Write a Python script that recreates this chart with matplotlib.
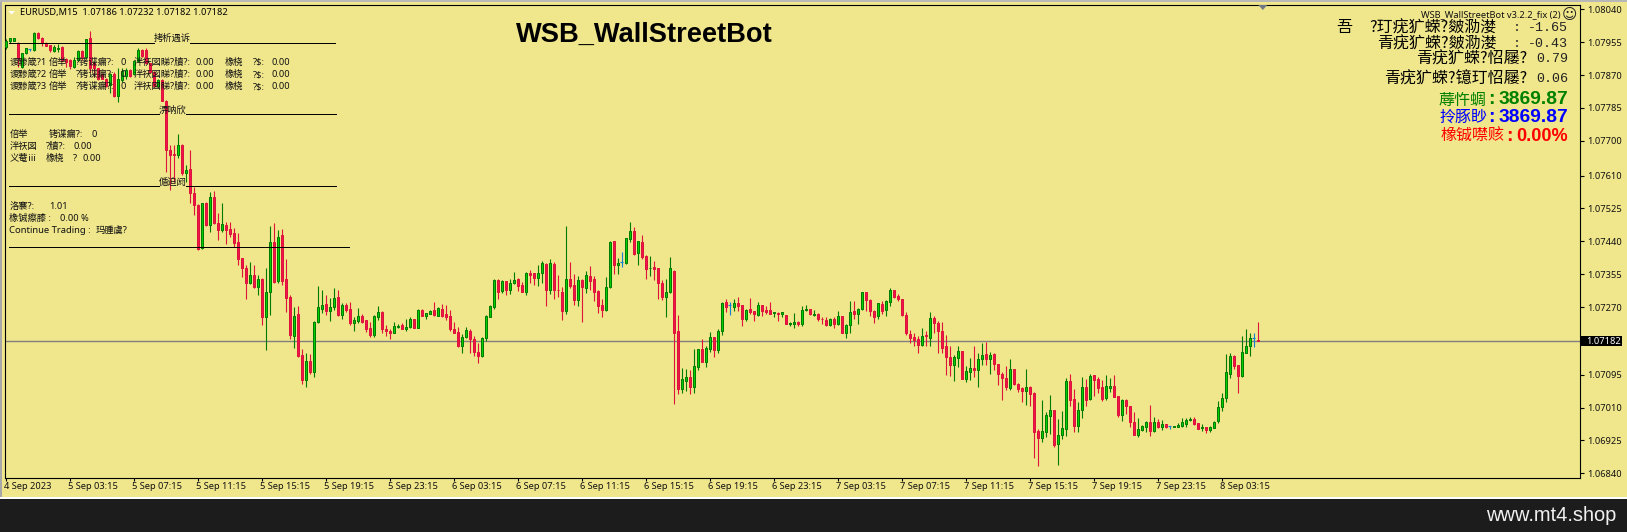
import matplotlib
matplotlib.use("Agg")
import matplotlib.pyplot as plt
from matplotlib.lines import Line2D
from matplotlib.patches import Polygon, Rectangle
from matplotlib.transforms import ScaledTranslation
import numpy as np

plt.rcParams['font.family'] = ['Noto Sans', 'Noto Sans CJK SC', 'DejaVu Sans']

# Quotes are kept in points above 1.0 (7182 means 1.07182)
OPEN_PTS = [
7942,7957,7959,7954,7892,7926,7937,7935,7978,7967,
7954,7947,7933,7938,7942,7911,7909,7892,7909,7932,
7916,7965,7902,7887,7873,7861,7843,7873,7816,7857,
7867,7883,7873,7906,7935,7935,7900,7879,7842,7857,
7804,7676,7667,7663,7689,7616,7626,7564,7534,7422,
7540,7482,7554,7488,7469,7482,7471,7461,7438,7396,
7370,7331,7352,7321,7342,7244,7310,7439,7338,7456,
7342,7295,7196,7251,7145,7082,7130,7103,7231,7266,
7278,7261,7269,7295,7250,7275,7264,7230,7235,7246,
7236,7215,7199,7245,7257,7213,7207,7204,7219,7223,
7212,7219,7238,7217,7262,7248,7253,7262,7248,7264,
7251,7246,7213,7205,7170,7193,7207,7187,7153,7144,
7191,7245,7271,7339,7312,7337,7313,7331,7342,7326,
7310,7357,7357,7346,7357,7381,7315,7381,7314,7308,
7261,7342,7326,7289,7339,7320,7350,7342,7311,7275,
7263,7323,7440,7378,7387,7384,7447,7466,7411,7438,
7401,7370,7373,7370,7332,7295,7308,7363,7208,7059,
7080,7089,7062,7116,7161,7129,7162,7192,7158,7209,
7283,7276,7271,7280,7275,7238,7264,7259,7250,7275,
7262,7262,7255,7255,7251,7249,7226,7226,7232,7227,
7262,7264,7249,7251,7239,7236,7223,7238,7225,7246,
7204,7223,7259,7251,7264,7308,7288,7259,7248,7277,
7262,7283,7314,7298,7290,7249,7200,7192,7187,7173,
7197,7191,7241,7228,7208,7169,7142,7119,7137,7156,
7085,7103,7112,7106,7135,7148,7136,7148,7122,7098,
7086,7061,7109,7070,7061,7054,7062,7049,6949,6932,
6948,6989,7003,6917,6938,6955,7080,7031,6963,7003,
7062,7032,7093,7083,7062,7036,7061,7067,7039,6992,
7029,7013,6974,6940,6952,6961,6974,6949,6972,6960,
6967,6962,6961,6961,6963,6967,6979,6980,6969,6956,
6959,6953,6958,6975,7011,7034,7097,7143,7119,7092,
7152,7170,7189,7186]
CLOSE_PTS = [
7959,7965,7965,7913,7926,7939,7937,7978,7967,7954,
7946,7935,7942,7941,7909,7903,7893,7909,7932,7916,
7962,7887,7887,7861,7861,7842,7873,7816,7861,7881,
7883,7867,7906,7935,7919,7900,7879,7842,7857,7804,
7676,7663,7663,7689,7616,7624,7564,7534,7420,7538,
7481,7555,7488,7469,7485,7469,7459,7435,7394,7370,
7331,7353,7323,7342,7244,7310,7439,7336,7452,7338,
7293,7199,7248,7144,7082,7130,7103,7231,7269,7275,
7261,7269,7293,7250,7275,7263,7230,7236,7246,7232,
7214,7199,7246,7257,7212,7207,7204,7220,7220,7214,
7218,7238,7217,7262,7248,7254,7261,7250,7267,7248,
7244,7212,7204,7170,7192,7210,7187,7154,7144,7189,
7246,7272,7339,7310,7337,7313,7331,7339,7325,7310,
7357,7354,7344,7357,7383,7313,7383,7313,7313,7261,
7342,7325,7289,7339,7323,7352,7338,7310,7274,7263,
7321,7438,7378,7383,7387,7448,7466,7408,7440,7400,
7368,7371,7369,7333,7295,7308,7370,7204,7059,7083,
7089,7062,7117,7161,7129,7164,7192,7158,7208,7280,
7271,7276,7280,7274,7238,7262,7258,7251,7275,7261,
7258,7253,7256,7251,7257,7227,7228,7231,7227,7262,
7264,7251,7251,7238,7238,7223,7238,7225,7246,7204,
7223,7257,7251,7264,7308,7288,7259,7245,7280,7261,
7285,7314,7297,7290,7249,7202,7191,7186,7173,7194,
7194,7241,7230,7207,7165,7142,7119,7140,7156,7085,
7104,7112,7106,7135,7146,7135,7145,7123,7098,7086,
7064,7109,7072,7059,7054,7062,7046,6948,6932,6949,
6991,7003,6914,6938,6956,7078,7030,6963,7003,7062,
7030,7091,7082,7061,7032,7065,7067,7038,6992,7029,
7015,6974,6940,6954,6962,6974,6949,6974,6960,6967,
6960,6962,6962,6965,6972,6979,6980,6967,6955,6959,
6953,6959,6974,7011,7034,7101,7143,7118,7092,7155,
7168,7189,7189,7182]
HIGH_PTS = [
7962,7967,7967,7956,7928,7941,7937,7980,7980,7968,
7955,7948,7948,7949,7944,7913,7911,7917,7936,7936,
7964,7984,7904,7889,7875,7863,7875,7879,7887,7887,
7887,7885,7908,7941,7937,7941,7902,7881,7861,7859,
7806,7689,7689,7717,7691,7637,7676,7581,7536,7540,
7542,7568,7571,7514,7538,7491,7491,7474,7461,7398,
7379,7386,7379,7353,7344,7370,7480,7487,7469,7472,
7394,7301,7269,7273,7162,7150,7149,7233,7325,7313,
7301,7293,7319,7314,7280,7280,7283,7245,7268,7251,
7237,7232,7249,7272,7260,7223,7213,7232,7225,7229,
7239,7244,7240,7264,7264,7255,7263,7283,7271,7278,
7275,7262,7232,7219,7200,7219,7213,7195,7176,7192,
7249,7275,7342,7342,7340,7338,7342,7360,7344,7334,
7360,7366,7359,7379,7389,7383,7394,7387,7353,7321,
7480,7387,7355,7350,7342,7363,7376,7350,7313,7291,
7347,7440,7441,7396,7413,7449,7489,7476,7441,7456,
7404,7402,7389,7371,7340,7343,7400,7365,7250,7113,
7110,7108,7161,7162,7187,7170,7205,7193,7213,7282,
7290,7283,7290,7295,7276,7264,7293,7260,7283,7276,
7272,7283,7258,7258,7258,7250,7232,7255,7234,7272,
7275,7265,7262,7254,7245,7245,7241,7244,7260,7247,
7225,7285,7285,7267,7309,7309,7290,7262,7281,7285,
7288,7319,7315,7303,7291,7258,7211,7202,7194,7215,
7208,7258,7247,7235,7231,7198,7169,7145,7170,7157,
7117,7139,7169,7151,7176,7180,7154,7150,7123,7101,
7117,7136,7110,7073,7064,7109,7067,7050,6954,7030,
6999,7042,7005,6980,7001,7086,7098,7058,7024,7088,
7084,7096,7094,7088,7081,7094,7086,7094,7041,7033,
7033,7014,6999,6983,6965,6975,7017,6986,6980,6978,
6968,6962,6962,6970,6983,6983,6986,6986,6970,6967,
6960,6963,6975,7027,7048,7148,7150,7146,7120,7194,
7212,7202,7202,7232]
LOW_PTS = [
7938,7954,7958,7892,7888,7924,7933,7933,7963,7944,
7945,7929,7930,7930,7906,7892,7885,7887,7905,7909,
7914,7879,7866,7858,7859,7840,7823,7814,7801,7853,
7861,7865,7871,7904,7917,7898,7877,7840,7838,7802,
7620,7573,7594,7655,7612,7594,7538,7508,7418,7420,
7479,7465,7485,7443,7465,7433,7452,7426,7379,7347,
7291,7329,7319,7301,7224,7159,7250,7331,7333,7327,
7258,7188,7165,7142,7071,7062,7097,7090,7228,7254,
7250,7235,7263,7247,7239,7258,7224,7209,7230,7230,
7206,7193,7193,7237,7204,7194,7188,7202,7215,7212,
7208,7217,7215,7215,7247,7240,7252,7248,7247,7243,
7237,7207,7203,7167,7150,7189,7151,7144,7126,7142,
7182,7243,7266,7291,7307,7301,7305,7330,7311,7309,
7301,7332,7328,7325,7331,7273,7305,7291,7296,7237,
7252,7318,7275,7273,7232,7307,7313,7286,7255,7244,
7261,7319,7356,7356,7374,7381,7437,7405,7379,7395,
7343,7350,7340,7291,7287,7245,7306,7020,7045,7049,
7054,7045,7049,7106,7128,7114,7154,7142,7150,7199,
7258,7250,7261,7261,7222,7235,7251,7233,7248,7248,
7251,7251,7243,7235,7245,7226,7222,7217,7222,7222,
7261,7250,7248,7233,7225,7222,7222,7217,7223,7202,
7191,7202,7238,7227,7263,7261,7248,7230,7238,7253,
7248,7274,7293,7285,7248,7199,7178,7170,7152,7168,
7168,7170,7204,7150,7150,7093,7092,7080,7114,7083,
7077,7082,7090,7062,7119,7120,7098,7107,7069,7030,
7055,7056,7069,7051,7025,7017,7014,6880,6859,6921,
6934,6942,6909,6861,6930,6937,7014,6948,6948,6984,
7014,7030,7040,7048,7027,7030,7050,7037,6986,6975,
6993,6960,6939,6934,6949,6947,6936,6947,6957,6952,
6957,6955,6961,6960,6960,6960,6975,6966,6954,6949,
6944,6947,6956,6970,7002,7025,7087,7109,7047,7089,
7151,7143,7167,7182]

DATE_LABELS = ["4 Sep 2023","5 Sep 03:15","5 Sep 07:15","5 Sep 11:15","5 Sep 15:15",
               "5 Sep 19:15","5 Sep 23:15","6 Sep 03:15","6 Sep 07:15","6 Sep 11:15",
               "6 Sep 15:15","6 Sep 19:15","6 Sep 23:15","7 Sep 03:15","7 Sep 07:15",
               "7 Sep 11:15","7 Sep 15:15","7 Sep 19:15","7 Sep 23:15","8 Sep 03:15"]
DATE_STEP_BARS = 16
PRICE_TICKS = [1.08040,1.07955,1.07870,1.07785,1.07700,1.07610,1.07525,1.07440,
               1.07355,1.07270,1.07095,1.07010,1.06925,1.06840]
LAST_PRICE = 1.07182

assert len(OPEN_PTS) == len(CLOSE_PTS) == len(HIGH_PTS) == len(LOW_PTS) == 314

W, H = 1627, 532
KHAKI = '#F0E68C'
BULL_FILL, BULL_EDGE = '#00d000', '#007a00'
BEAR_FILL, BEAR_EDGE = '#f0144a', '#dc143c'
DOJI = '#1080d0'
TEXT_SIZE = 6.7

fig = plt.figure(figsize=(W / 100, H / 100), dpi=100, facecolor=KHAKI)


def px_axes(l, t, r, b):
    return [l / W, 1 - b / H, (r - l) / W, (b - t) / H]


def txt(x, y, s, size=TEXT_SIZE, color='#111111', ha='left', **kw):
    return fig.text(x / W, 1 - y / H, s, fontsize=size, color=color, ha=ha, va='center', zorder=20, **kw)


def hline(x0, x1, y, color='black', lw=1.0):
    fig.add_artist(Line2D([x0 / W, x1 / W], [1 - y / H, 1 - y / H], color=color, lw=lw * 0.72, zorder=15))


ax = fig.add_axes(px_axes(4.5, 4.5, 1579.5, 477.5), facecolor=KHAKI)
ax.set_xlim((4.5 - 5.67) / 4, (1579.5 - 5.67) / 4)
ax.set_ylim(1.068292, 1.080524)

o = 1 + np.array(OPEN_PTS) / 1e5
c = 1 + np.array(CLOSE_PTS) / 1e5
h = 1 + np.array(HIGH_PTS) / 1e5
l = 1 + np.array(LOW_PTS) / 1e5
x = np.arange(len(o))
up = c > o
dn = c < o
eq = c == o

ax.axhline(LAST_PRICE, color='#808080', lw=1.0, zorder=1)
for mask, col in ((up, BULL_EDGE), (dn, BEAR_EDGE), (eq, DOJI)):
    ax.vlines(x[mask], l[mask], h[mask], color=col, lw=0.8, zorder=2)
ax.bar(x[up], (c - o)[up], bottom=o[up], width=0.5, facecolor=BULL_FILL, edgecolor=BULL_EDGE, lw=0.72, zorder=3)
ax.bar(x[dn], (o - c)[dn], bottom=c[dn], width=0.5, facecolor=BEAR_FILL, edgecolor=BEAR_EDGE, lw=0.72, zorder=3)
ax.hlines(o[eq], x[eq] - 0.4, x[eq] + 0.4, color=DOJI, lw=0.85, zorder=3)

for s in ax.spines.values():
    s.set_color('black')
    s.set_linewidth(0.8)
ax.yaxis.tick_right()
ax.set_yticks(PRICE_TICKS + [LAST_PRICE])
ax.set_yticklabels([f"{p:.5f}" for p in PRICE_TICKS] + [""], fontsize=TEXT_SIZE, color='#111111')
ax.tick_params(axis='y', length=2.6, width=0.8, pad=2.6, color='black')
ax.set_xticks(np.arange(len(DATE_LABELS)) * DATE_STEP_BARS)
ax.set_xticklabels(DATE_LABELS, fontsize=TEXT_SIZE, color='#111111', ha='left')
ax.tick_params(axis='x', length=2.4, width=0.8, pad=1.0, color='black')
shift = ScaledTranslation(-1.6 / 100, 0, fig.dpi_scale_trans)
for t in ax.get_xticklabels():
    t.set_transform(t.get_transform() + shift)

# last price box
yp = H - ax.transData.transform((0, LAST_PRICE))[1]
fig.add_artist(Rectangle((1581 / W, 1 - (yp + 5.2) / H), 40.7 / W, 10.4 / H, transform=fig.transFigure,
                         facecolor='black', edgecolor='none', zorder=16))
txt(1585.7, yp + 0.2, f"{LAST_PRICE:.5f}", color='white')

# frame pieces outside the plot
fig.add_artist(Rectangle((0, 0), 2 / W, 1, transform=fig.transFigure, facecolor='#a8a8a8', edgecolor='none', zorder=0))
fig.add_artist(Rectangle((0, 1 - 1.5 / H), 1, 1.5 / H, transform=fig.transFigure, facecolor='#b8b8b8', edgecolor='none', zorder=0))
fig.add_artist(Rectangle((0, 0), 1, 35 / H, transform=fig.transFigure, facecolor='white', edgecolor='none', zorder=17))
fig.add_artist(Rectangle((0, 0), 1, 33 / H, transform=fig.transFigure, facecolor='#1c1c1c', edgecolor='none', zorder=18))
txt(1486, 515.5, "www.mt4.shop", size=14.4, color='#f0f0f0', family='Liberation Sans')

# header
fig.add_artist(Polygon([[8.3 / W, 1 - 11 / H], [15 / W, 1 - 11 / H], [11.6 / W, 1 - 14.5 / H]],
                       transform=fig.transFigure, facecolor='white', edgecolor='none', zorder=16))
txt(20.2, 12.8, "EURUSD,M15  1.07186 1.07232 1.07182 1.07182", size=6.65, color='black')
fig.add_artist(Polygon([[1258.3 / W, 1 - 5 / H], [1267.3 / W, 1 - 5 / H], [1262.8 / W, 1 - 10 / H]],
                       transform=fig.transFigure, facecolor='#707888', edgecolor='none', zorder=16))
txt(515.7, 35, "WSB_WallStreetBot", size=19.6, color='black', family='Liberation Sans', weight='bold')

# left panel
hline(9, 154, 42.5); hline(190, 335, 42.5)
txt(172, 38.5, "拷析遇诉", ha='center')
hline(9, 159, 114.3); hline(186, 336, 114.3)
txt(172.5, 110.5, "淠呐欣", ha='center')
hline(9, 159, 186); hline(186, 336, 186)
txt(172.5, 182, "偱迫阏", ha='center')
hline(9, 349, 246.5)

for n, y in ((1, 62.5), (2, 74.5), (3, 86.5)):
    txt(9.3, y, f"谡黪箴?{n}")
    txt(49, y, "倍举")
    txt(76, y, "?铐谍瘺?:")
    txt(120, y, "0")
    txt(133.5, y, "泮祆図睇?牘?:")
    txt(195, y, "0.00")
    txt(225, y, "橡桡")
    txt(252.5, y, "?$:")
    txt(271, y, "0.00")
txt(9.3, 134.3, "倍举"); txt(49, 134.3, "铐谍瘺?:"); txt(91.5, 134.3, "0")
txt(9.3, 146.3, "泮祆図"); txt(45.5, 146.3, "?牘?:"); txt(74, 146.3, "0.00")
txt(9.3, 158.3, "义菴ⅲ"); txt(45.5, 158.3, "橡桡"); txt(72.5, 158.3, "?"); txt(82.3, 158.3, "0.00")
txt(9.3, 206.5, "洛褰?:"); txt(49.3, 206.5, "1.01")
txt(9.3, 218.5, "橡铖瘵膝 :"); txt(60, 218.5, "0.00 %")
txt(9.3, 230.5, "Continue Trading :", size=6.8); txt(96, 230.5, "玛腫虞?")

# right panel
txt(1560.7, 14.2, "WSB_WallStreetBot v3.2.2_fix (2)", ha='right', size=6.7, color='#111111')
txt(1569, 14, "☺", ha='center', size=10.5, color='#222222', family='DejaVu Sans')

CJK = 'Noto Sans CJK SC'
MONO = 'Liberation Mono'
NAME_SIZE = 11.5
txt(1344.7, 27.7, "吾", ha='center', size=NAME_SIZE, family=CJK, color='black')
txt(1568, 28, "-1.65", ha='right', size=9.6, family=MONO, color='#222222')
txt(1517, 28, ":", ha='center', size=9.6, family=MONO, color='#222222')
txt(1497, 27.7, "?玎疣犷蝾?皴泐漤", ha='right', size=NAME_SIZE, family=CJK, color='black')
txt(1568, 43.7, "-0.43", ha='right', size=9.6, family=MONO, color='#222222')
txt(1517, 43.7, ":", ha='center', size=9.6, family=MONO, color='#222222')
txt(1497, 43.7, "青疣犷蝾?皴泐漤", ha='right', size=NAME_SIZE, family=CJK, color='black')
txt(1568, 58.7, "0.79", ha='right', size=9.6, family=MONO, color='#222222')
txt(1527, 58.7, "青疣犷蝾?怊屦?", ha='right', size=NAME_SIZE, family=CJK, color='black')
txt(1568, 78.7, "0.06", ha='right', size=9.6, family=MONO, color='#222222')
txt(1527, 78.7, "青疣犷蝾?镱玎怊屦?", ha='right', size=NAME_SIZE, family=CJK, color='black')

ARIAL = 'Liberation Sans'
for y, name, val, col, xname, vsize in ((100, "蓐忤蜩", "3869.87", '#008000', 1487, 13.8),
                                        (117.7, "拎豚眇", "3869.87", '#0000ff', 1487, 13.8),
                                        (136.7, "橡铖噤赅", "0.00%", '#ff0000', 1505, 13.0)):
    txt(xname, y, name, ha='right', size=NAME_SIZE, family=CJK, color=col)
    txt(xname + 1, y, ":", size=13.8, family=ARIAL, weight='bold', color=col)
    txt(1568, y, val, ha='right', size=vsize, family=ARIAL, weight='bold', color=col)

fig.savefig("out.png", dpi=100, facecolor=KHAKI)
